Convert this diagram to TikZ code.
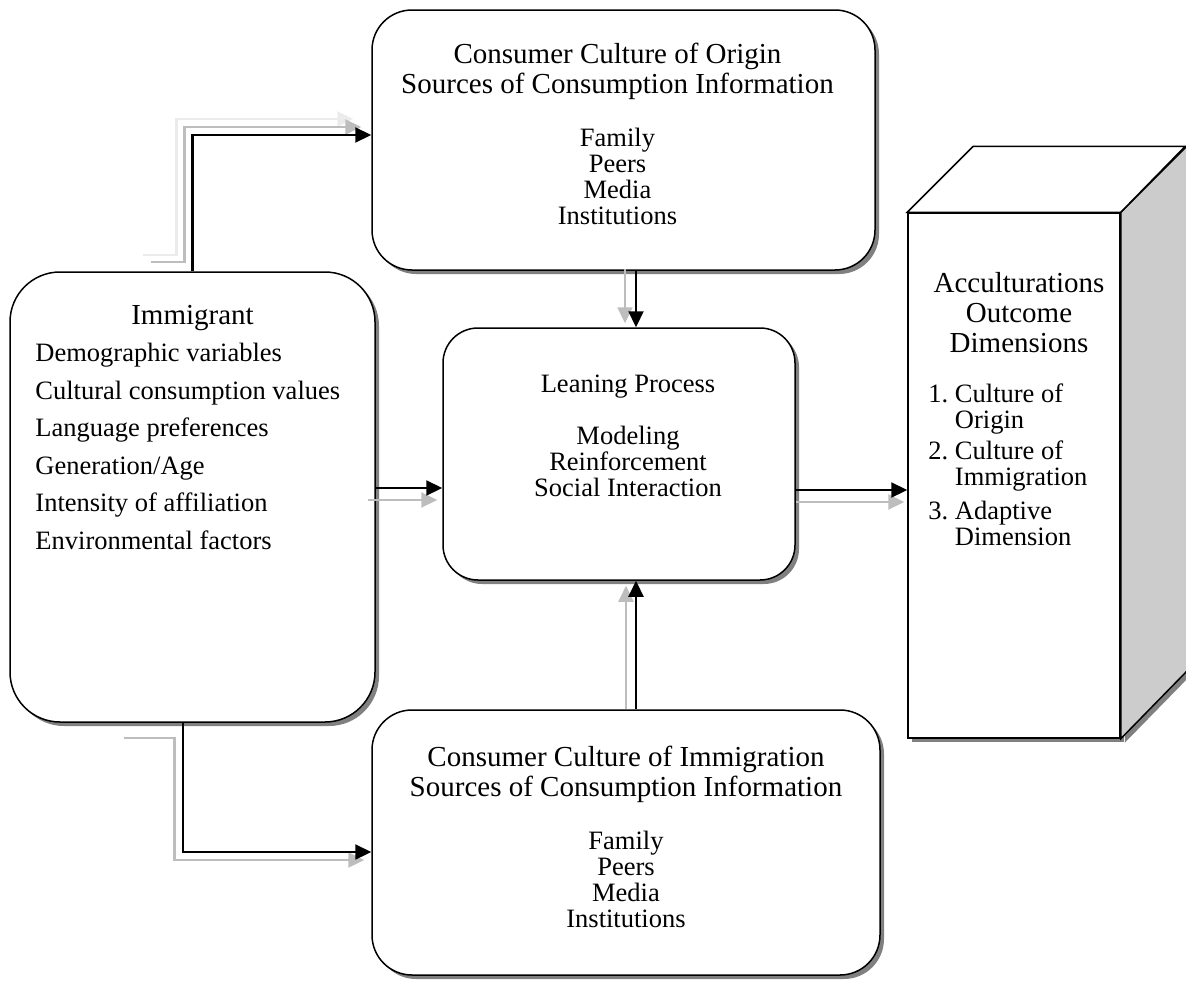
\documentclass[tikz,border=0pt]{standalone}
\usepackage{fontspec}
\setmainfont{Liberation Serif}
\usetikzlibrary{arrows.meta, positioning, shadows}
\definecolor{shadowgray}{HTML}{808080}
\definecolor{ghostgray}{HTML}{BDBDBD}
\definecolor{faintgray}{HTML}{EBEBEB}
\definecolor{sidegray}{HTML}{CCCCCC}

\begin{document}
\begin{tikzpicture}[x=1pt, y=-1pt,
  box/.style={rectangle, rounded corners=40pt, draw=black, fill=white, line width=1.5pt, drop shadow={shadow xshift=4pt, shadow yshift=-4pt, fill=shadowgray, opacity=1}},
  headtext/.style={inner sep=0pt, align=center, font=\fontsize{29}{30}\selectfont},
  listtext/.style={inner sep=0pt, align=center, font=\fontsize{26.5}{26}\selectfont},
  itemtext/.style={inner sep=0pt, align=left, font=\fontsize{26.5}{37.5}\selectfont},
  arrow/.style={-{Triangle[length=16pt, width=15pt]}, line width=2.2pt},
  ghost/.style={arrow, draw=ghostgray, color=ghostgray},
  faint/.style={arrow, draw=faintgray, color=faintgray}
]
  \useasboundingbox (0,0) rectangle (1186,985);

  % boxes
  \node[box, minimum width=503pt, minimum height=260pt] (origin) at (623.5,140) {};
  \node[box, rounded corners=50pt, minimum width=365pt, minimum height=450pt] (imm) at (192.5,497) {};
  \node[box, rounded corners=35pt, minimum width=352pt, minimum height=252pt] (lean) at (619,454) {};
  \node[box, minimum width=508pt, minimum height=265pt] (immig) at (626,842.5) {};
  \node[rectangle, draw=black, fill=white, line width=1.5pt, drop shadow={shadow xshift=4pt, shadow yshift=-4pt, fill=shadowgray, opacity=1}, minimum width=212pt, minimum height=525pt] (outcome) at (1014,475.5) {};

  % block faces
  \fill[shadowgray] ([shift={(4,4)}]outcome.north east) -- ++(66,-66) -- ++(0,525) -- ([shift={(4,4)}]outcome.south east) -- cycle;
  \draw[line width=1.5pt, fill=sidegray] (outcome.north east) -- ++(66,-66) -- ++(0,525) -- (outcome.south east) -- cycle;
  \draw[line width=1.5pt, fill=white] (outcome.north west) -- ++(66,-66) -- ++(212,0) -- (outcome.north east) -- cycle;

  % texts
  \node[headtext, below=34pt of origin.north, xshift=-6pt] (originhead) {Consumer Culture of Origin\\Sources of Consumption Information};
  \node[listtext, below=28pt of originhead] (originlist) {Family\\Peers\\Media\\Institutions};

  \node[headtext, below=34pt of imm.north] (immhead) {Immigrant};
  \node[itemtext, anchor=north west] (immlist) at ([shift={(26,72)}]imm.north west) {Demographic variables\\Cultural consumption values\\Language preferences\\Generation/Age\\Intensity of affiliation\\Environmental factors};

  \node[listtext, below=47pt of lean.north, xshift=9pt] (leanhead) {Leaning Process};
  \node[listtext, below=28pt of leanhead] (leanlist) {Modeling\\Reinforcement\\Social Interaction};

  \node[headtext, below=37pt of immig.north] (immighead) {Consumer Culture of Immigration\\Sources of Consumption Information};
  \node[listtext, below=28pt of immighead] (immiglist) {Family\\Peers\\Media\\Institutions};

  \node[headtext, below=60pt of outcome.north, xshift=5pt] (outhead) {Acculturations\\Outcome\\Dimensions};
  \node[inner sep=0pt, align=left, font=\fontsize{26.5}{26}\selectfont, anchor=north west] (outlist) at ([shift={(21,171)}]outcome.north west) {1.~Culture of\\\phantom{1.}~Origin\\[5pt]2.~Culture of\\\phantom{2.}~Immigration\\[8pt]3.~Adaptive\\\phantom{3.}~Dimension};

  % connectors
  \draw[faint] ([shift={(-50,-16)}]imm.north) -- ++(34,0) |- ([shift={(-18,-21)}]origin.west);
  \draw[ghost] ([shift={(-42,-9)}]imm.north) -- ++(34,0) |- ([shift={(-10,-13)}]origin.west);
  \draw[arrow] (imm.north) |- ([yshift=5pt]origin.west);

  \draw[ghost] ([xshift=1.5pt, yshift=2pt]origin.south) -- ([xshift=1.5pt, yshift=4pt]origin.south |- lean.north);
  \draw[arrow] ([xshift=12.5pt]origin.south) -- ([xshift=12.5pt]origin.south |- lean.north);

  \draw[ghost] (immig.north) -- ([yshift=-5pt]immig.north |- lean.south);
  \draw[arrow] ([xshift=10pt]immig.north) -- ([xshift=10pt]immig.north |- lean.south);

  \draw[ghost] ([shift={(-8,3)}]imm.east) -- ([shift={(-5,3)}]imm.east -| lean.west);
  \draw[arrow] ([yshift=9pt]imm.east) -- ([yshift=9pt]imm.east -| lean.west);

  \draw[ghost] ([shift={(0,26.5)}]outcome.west -| lean.east) -- ([shift={(-3,26.5)}]outcome.west);
  \draw[arrow] ([shift={(0,14.5)}]outcome.west -| lean.east) -- ([shift={(0,14.5)}]outcome.west);

  \draw[ghost] ([shift={(-69,15)}]imm.south) -- ++(51,0) |- ([shift={(-7,17.5)}]immig.west);
  \draw[arrow] ([xshift=-9.5pt]imm.south) |- ([yshift=-9.5pt]immig.west);
\end{tikzpicture}
\end{document}
